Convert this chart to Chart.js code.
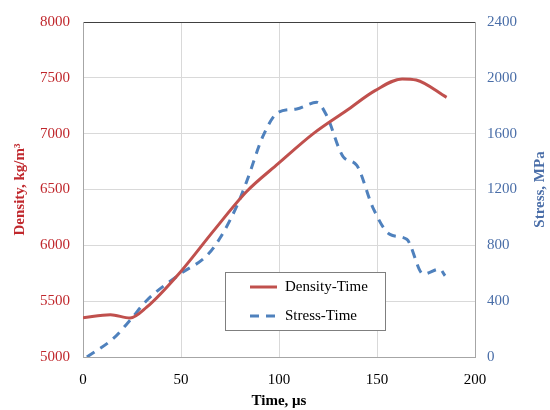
<!DOCTYPE html>
<html>
<head>
<meta charset="utf-8">
<script src="https://cdn.jsdelivr.net/npm/chart.js@4"></script>
<style>
  html, body { margin: 0; padding: 0; background: #fff; }
  #wrap { width: 550px; height: 410px; }
</style>
</head>
<body>
<div id="wrap"><canvas id="chart" width="550" height="410"></canvas></div>
<script>
// density curve (time in µs, density in kg/m3)
const densityTime   = [0, 14, 24, 32.5, 49.5, 66.5, 83.5, 99.7, 117.5, 134.5, 149, 162.8, 170, 185.5];
const densityValues = [5352, 5379, 5349, 5446, 5757, 6127, 6482, 6733, 7000, 7207, 7385, 7490, 7480, 7325];

// stress curve (time in µs, stress in MPa)
const stressTime   = [2, 15.5, 24, 32.5, 49.5, 63, 70, 78.4, 83.5, 92, 99.7, 109, 119.2, 124.3, 132.8, 139.6, 148, 156.6, 165.2, 173.6, 182, 184.7];
const stressValues = [0, 133, 263, 405, 594, 724, 854, 1079, 1257, 1588, 1754, 1777, 1825, 1730, 1434, 1375, 1067, 878, 843, 594, 630, 582];

const timeTicks = [0, 50, 100, 150, 200];

const serif = 'Liberation Serif';
const redText = '#C0282D';
const blueText = '#4A6EA8';
const stressTitle = 'Stress, MPa';

function toPoints(xs, ys) {
    return xs.map((x, i) => ({ x: x, y: ys[i] }));
}

// legend box inside the plot + right axis title reading bottom to top
const extras = {
    id: 'extras',
    afterDatasetsDraw(chart) {
        const ctx = chart.ctx;
        const x0 = 225, y0 = 272, w = 160, h = 58;
        ctx.save();
        ctx.fillStyle = '#fff';
        ctx.fillRect(x0, y0, w, h);
        ctx.strokeStyle = '#7f7f7f';
        ctx.lineWidth = 1;
        ctx.strokeRect(x0 + 0.5, y0 + 0.5, w, h);
        ctx.font = '15px "' + serif + '"';
        ctx.textBaseline = 'middle';
        chart.data.datasets.forEach((ds, i) => {
            const yy = y0 + 15 + i * 29;
            ctx.strokeStyle = ds.borderColor;
            ctx.lineWidth = ds.borderWidth;
            ctx.setLineDash(ds.borderDash || []);
            ctx.beginPath();
            ctx.moveTo(250, yy);
            ctx.lineTo(277, yy);
            ctx.stroke();
            ctx.setLineDash([]);
            ctx.fillStyle = '#000';
            ctx.fillText(ds.label, 285, yy);
        });
        ctx.restore();
    },
    afterDraw(chart) {
        const ctx = chart.ctx;
        const area = chart.chartArea;
        ctx.save();
        ctx.translate(540, (area.top + area.bottom) / 2);
        ctx.rotate(-Math.PI / 2);
        ctx.font = 'bold 15px "' + serif + '"';
        ctx.fillStyle = blueText;
        ctx.textAlign = 'center';
        ctx.textBaseline = 'middle';
        ctx.fillText(stressTitle, 0, 0);
        ctx.restore();
    }
};

const plain = v => String(v);

new Chart(document.getElementById('chart').getContext('2d'), {
    type: 'line',
    data: {
        datasets: [{
            label: 'Density-Time',
            data: toPoints(densityTime, densityValues),
            yAxisID: 'y',
            borderColor: '#C0504D',
            borderWidth: 3,
            pointRadius: 0,
            cubicInterpolationMode: 'monotone',
            fill: false
        }, {
            label: 'Stress-Time',
            data: toPoints(stressTime, stressValues),
            yAxisID: 'y2',
            borderColor: '#4F81BD',
            borderWidth: 3,
            borderDash: [9, 7],
            pointRadius: 0,
            cubicInterpolationMode: 'monotone',
            fill: false
        }]
    },
    options: {
        responsive: false,
        animation: false,
        layout: { padding: { top: 19, left: 0, right: 0, bottom: 0 } },
        plugins: {
            legend: { display: false },
            tooltip: { enabled: false }
        },
        scales: {
            x: {
                type: 'linear',
                min: 0,
                max: 200,
                afterBuildTicks: s => { s.ticks = timeTicks.map(v => ({ value: v })); },
                afterFit: s => { s.height = 53; },
                ticks: { color: '#000', padding: 14, callback: plain, font: { family: serif, size: 15 } },
                grid: { color: '#d9d9d9', drawTicks: false },
                border: { color: '#a6a6a6' },
                title: {
                    display: true,
                    text: 'Time, μs',
                    color: '#000',
                    padding: 0,
                    font: { family: serif, size: 15, weight: 'bold' }
                }
            },
            y: {
                position: 'left',
                min: 5000,
                max: 8000,
                afterFit: s => { s.width = 83; },
                ticks: { stepSize: 500, color: redText, padding: 13, callback: plain, font: { family: serif, size: 15 } },
                grid: {
                    color: c => (c.tick && c.tick.value === 8000) ? '#404040' : '#d9d9d9',
                    drawTicks: false
                },
                border: { color: '#a6a6a6' },
                title: {
                    display: true,
                    text: 'Density, kg/m³',
                    color: redText,
                    padding: { top: 11, bottom: 0 },
                    font: { family: serif, size: 15, weight: 'bold' }
                }
            },
            y2: {
                position: 'right',
                min: 0,
                max: 2400,
                afterFit: s => { s.width = 75; },
                ticks: { stepSize: 400, color: blueText, padding: 12, callback: plain, font: { family: serif, size: 15 } },
                grid: { drawOnChartArea: false, drawTicks: false },
                border: { color: '#a6a6a6' },
                title: { display: false }
            }
        }
    },
    plugins: [extras]
});
</script>
</body>
</html>
